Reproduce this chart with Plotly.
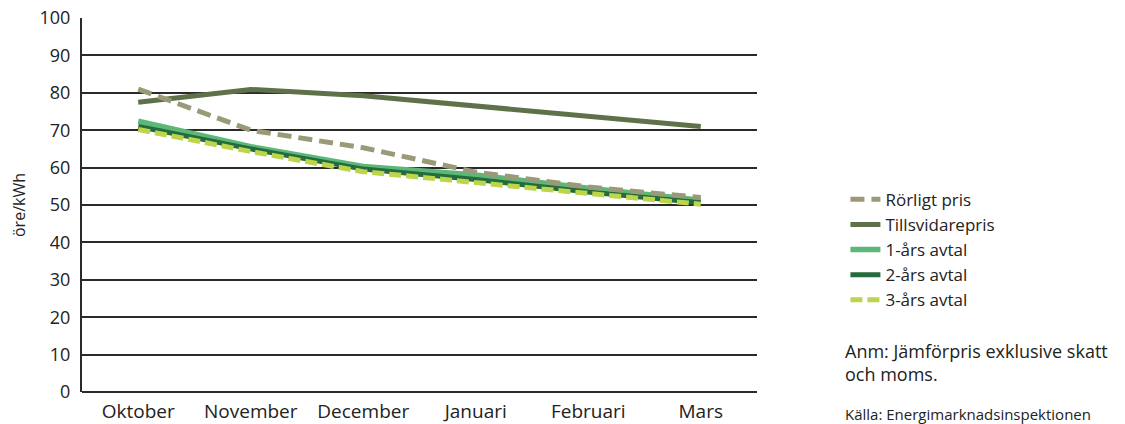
import plotly.graph_objects as go

months = ["Oktober", "November", "December", "Januari", "Februari", "Mars"]
rorligt_pris = [81.0, 70.0, 65.3, 58.8, 54.8, 52.0]
tillsvidarepris = [77.5, 80.9, 79.2, 76.5, 74.0, 71.0]
avtal_1ar = [72.4, 65.6, 60.3, 58.0, 54.5, 51.3]
avtal_2ar = [71.0, 65.0, 59.6, 56.8, 53.5, 50.6]
avtal_3ar = [70.2, 64.3, 58.9, 56.0, 53.0, 50.2]
y_ticks = list(range(0, 101, 10))

FONT = "Open Sans, Roboto, Liberation Sans, sans-serif"
TEXT = "#222222"

series = [
    # name, values, colour, dash, legend rank, width
    ("Tillsvidarepris", tillsvidarepris, "#5f7148", "solid", 2, 5),
    ("1-års avtal", avtal_1ar, "#5cb878", "solid", 3, 5.5),
    ("2-års avtal", avtal_2ar, "#256b3d", "solid", 4, 5),
    ("3-års avtal", avtal_3ar, "#bcd54a", "12px,5px", 5, 5),
    ("Rörligt pris", rorligt_pris, "#9a9a78", "14px,7px", 1, 5),
]

fig = go.Figure()
for name, vals, color, dash, rank, width in series:
    fig.add_trace(go.Scatter(
        x=months, y=vals, name=name, mode="lines",
        line=dict(color=color, width=width, dash=dash),
        legendrank=rank,
    ))

fig.update_layout(
    width=1125, height=424,
    margin=dict(l=82, r=368, t=18, b=32),
    paper_bgcolor="white", plot_bgcolor="white",
    font=dict(family=FONT, color=TEXT, size=17),
    showlegend=True,
    legend=dict(
        x=1.131, y=0.562, xanchor="left", yanchor="top",
        font=dict(family=FONT, size=17, color=TEXT),
        tracegroupgap=0, itemwidth=30,
        bgcolor="rgba(0,0,0,0)",
    ),
    xaxis=dict(
        type="category", range=[-0.5, 5.5],
        showgrid=False, showline=False, zeroline=False,
        ticks="", tickfont=dict(size=19, color=TEXT),
        ticklabelstandoff=6, automargin=False,
    ),
    yaxis=dict(
        range=[0, 100], tickvals=y_ticks,
        showgrid=True, gridcolor="#2a2a2a", gridwidth=1.6,
        showline=True, linecolor="#2a2a2a", linewidth=2,
        zeroline=True, zerolinecolor="#2a2a2a", zerolinewidth=2,
        ticks="", ticklen=0, tickfont=dict(size=18, color=TEXT),
        ticklabelstandoff=6, automargin=False,
        title=dict(text="öre/kWh", font=dict(size=16, color=TEXT), standoff=10),
    ),
    annotations=[
        dict(text="Anm: Jämförpris exklusive skatt<br>och moms.",
             xref="paper", yref="paper", x=1.128, y=0.148,
             xanchor="left", yanchor="top", align="left", showarrow=False,
             font=dict(family=FONT, size=18, color=TEXT)),
        dict(text="Källa: Energimarknadsinspektionen",
             xref="paper", yref="paper", x=1.128, y=-0.026,
             xanchor="left", yanchor="top", align="left", showarrow=False,
             font=dict(family=FONT, size=15, color=TEXT)),
    ],
)

fig.write_html("out.html")
